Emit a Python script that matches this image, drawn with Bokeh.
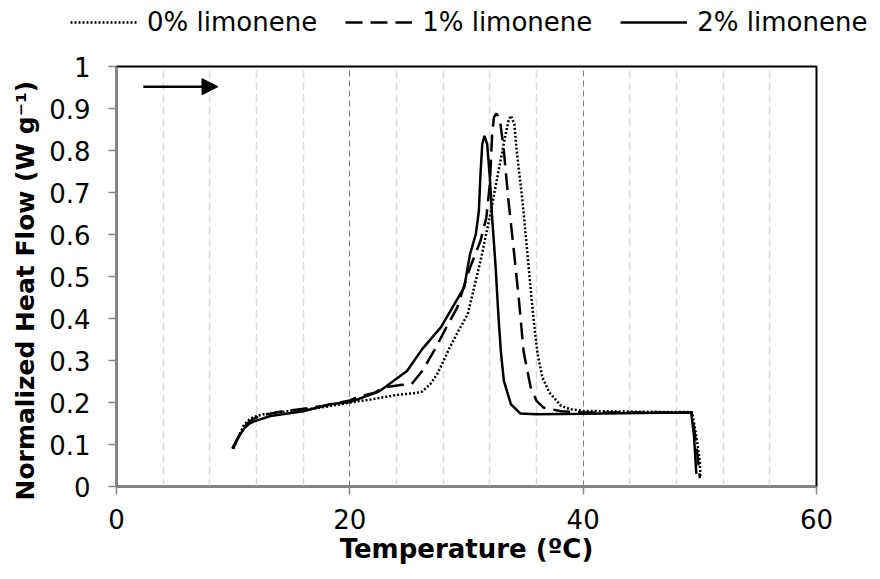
from bokeh.plotting import figure
from bokeh.layouts import column
from bokeh.models import (Legend, LegendItem, FixedTicker, Grid, Arrow, NormalHead,
                          Range1d, Title)
from bokeh.embed import file_html
from bokeh.resources import INLINE

# DSC heat-flow traces (temperature in degC, normalized heat flow in W/g)
temp_0 = [10.0, 10.4, 10.9, 11.4, 11.8, 12.6, 14.6, 16.0, 18.0, 20.0, 22.0, 24.0,
          25.5, 26.2, 26.9, 27.5, 28.5, 29.3, 30.1, 31.2, 32.1, 32.8, 33.3, 33.6,
          33.8, 34.1, 34.3, 34.8, 35.2, 35.6, 35.9, 36.1, 36.5, 37.1, 38.1, 38.9,
          40.0, 45.0, 49.35, 49.7, 50.0, 50.05]
flow_0 = [0.09, 0.115, 0.145, 0.16, 0.166, 0.172, 0.179, 0.182, 0.19, 0.20, 0.208, 0.218,
          0.222, 0.226, 0.244, 0.268, 0.327, 0.37, 0.41, 0.537, 0.656, 0.76, 0.831, 0.871,
          0.883, 0.863, 0.80, 0.68, 0.561, 0.44, 0.36, 0.315, 0.26, 0.224, 0.192, 0.184,
          0.18, 0.178, 0.177, 0.12, 0.06, 0.02]

temp_1 = [10.0, 10.4, 10.9, 11.4, 11.8, 12.6, 14.0, 16.0, 18.0, 20.0, 20.6, 22.2,
          22.9, 24.5, 25.3, 26.2, 27.3, 28.2, 29.2, 30.3, 31.2, 31.7, 32.0, 32.2,
          32.35, 32.57, 32.86, 33.2, 33.6, 34.06, 34.5, 34.9, 35.5, 36.0, 36.6, 38.1,
          40.0, 45.0, 49.3, 49.6, 49.9, 50.0]
flow_1 = [0.09, 0.115, 0.14, 0.155, 0.162, 0.17, 0.178, 0.185, 0.193, 0.205, 0.212, 0.224,
          0.236, 0.242, 0.244, 0.275, 0.327, 0.375, 0.426, 0.521, 0.585, 0.64, 0.72, 0.839,
          0.879, 0.888, 0.875, 0.80, 0.68, 0.561, 0.442, 0.32, 0.236, 0.204, 0.188, 0.179,
          0.176, 0.176, 0.176, 0.12, 0.05, 0.02]

temp_2 = [9.92, 10.4, 10.9, 11.4, 11.8, 13.2, 16.0, 18.3, 20.0, 22.3, 22.6, 24.9,
          26.2, 27.8, 29.8, 30.3, 30.8, 31.06, 31.2, 31.35, 31.54, 31.77, 32.0, 32.2,
          32.5, 32.75, 32.95, 33.2, 33.8, 34.6, 36.0, 40.0, 45.0, 49.26, 49.5, 49.7]
flow_2 = [0.09, 0.115, 0.137, 0.15, 0.155, 0.168, 0.179, 0.196, 0.201, 0.224, 0.228, 0.275,
          0.327, 0.379, 0.474, 0.553, 0.601, 0.656, 0.744, 0.815, 0.835, 0.815, 0.736, 0.64,
          0.521, 0.40, 0.32, 0.252, 0.196, 0.174, 0.172, 0.173, 0.175, 0.176, 0.12, 0.03]

series_names = ["0% limonene", "1% limonene", "2% limonene"]

x_ticks = [0, 20, 40, 60]
x_minor_grid = [4, 8, 12, 16, 24, 28, 32, 36, 44, 48, 52, 56]
y_ticks = [0, 0.1, 0.2, 0.3, 0.4, 0.5, 0.6, 0.7, 0.8, 0.9, 1]
y_tick_labels = ["0", "0.1", "0.2", "0.3", "0.4", "0.5", "0.6", "0.7", "0.8", "0.9", "1"]

FONT = "DejaVu Sans"
AXIS_GRAY = "#868686"
LINE_STYLES = [dict(line_dash="2 2"), dict(line_dash="17 8"), dict(line_dash="solid")]

LEGEND_H = 45

# ---- main chart ----
p = figure(width=880, height=579 - LEGEND_H, output_backend="svg", toolbar_location=None,
           x_range=Range1d(0, 60), y_range=Range1d(0, 1),
           min_border_left=116, min_border_right=64, min_border_top=66 - LEGEND_H,
           min_border_bottom=93)
p.frame_align = False
p.outline_line_color = "black"
p.outline_line_width = 2
p.background_fill_color = "white"
p.border_fill_color = "white"

# vertical grid: light dashes every 4 degC, darker at the major ticks
p.xgrid.ticker = FixedTicker(ticks=x_minor_grid)
p.xgrid.grid_line_color = "#d9d9d9"
p.xgrid.grid_line_width = 1.5
p.xgrid.grid_line_dash = "8 4"
p.ygrid.visible = False
major_grid = Grid(dimension=0, ticker=FixedTicker(ticks=[20, 40]),
                  grid_line_color="#808080", grid_line_width=1, grid_line_dash="6 4")
p.add_layout(major_grid)

# axes
for ax in (p.xaxis[0], p.yaxis[0]):
    ax.axis_line_color = AXIS_GRAY
    ax.axis_line_width = 2
    ax.major_tick_line_color = AXIS_GRAY
    ax.major_tick_line_width = 1.5
    ax.major_tick_in = 0
    ax.major_tick_out = 8
    ax.minor_tick_line_color = None
    ax.major_label_text_font = FONT
    ax.major_label_text_font_size = "26px"
    ax.major_label_text_color = "black"

p.xaxis.ticker = FixedTicker(ticks=x_ticks)
p.xaxis.axis_label = "Temperature (\u00baC)"
p.xaxis.axis_label_text_font = FONT
p.xaxis.axis_label_text_font_size = "26px"
p.xaxis.axis_label_text_font_style = "bold"
p.xaxis.axis_label_text_color = "black"
p.xaxis.major_label_standoff = 14
p.xaxis.axis_label_standoff = 2

p.yaxis.ticker = FixedTicker(ticks=y_ticks)
p.yaxis.major_label_overrides = {t: s for t, s in zip(y_ticks, y_tick_labels)}
p.yaxis.major_label_standoff = 18

# y-axis title as a side title, anchored at the lower end of the axis
y_title = Title(text="Normalized Heat Flow (W g\u207b\u00b9)", align="left", offset=-14,
                text_font=FONT, text_font_size="25px", text_font_style="bold",
                text_color="black", standoff=13)
p.add_layout(y_title, "left")

# traces
for (t, q), style in zip([(temp_0, flow_0), (temp_1, flow_1), (temp_2, flow_2)], LINE_STYLES):
    p.line(t, q, line_color="black", line_width=2.5, **style)

# heating direction arrow
arrow_x = (2.3, 8.7)
arrow_y = 0.952
p.add_layout(Arrow(end=NormalHead(size=16, fill_color="black", line_color="black"),
                   x_start=arrow_x[0], y_start=arrow_y, x_end=arrow_x[1], y_end=arrow_y,
                   line_color="black", line_width=2.5))

# ---- legend strip above the chart ----
leg = figure(width=880, height=LEGEND_H, output_backend="svg", toolbar_location=None,
             x_range=Range1d(0, 1), y_range=Range1d(0, 1),
             min_border_left=0, min_border_right=0, min_border_top=0, min_border_bottom=0)
leg.frame_align = False
leg.axis.visible = False
leg.grid.visible = False
leg.outline_line_color = None
# sample lines sit outside the visible range; only their legend swatches show
leg_renderers = [leg.line([-2, -1], [-2, -1], line_color="black", line_width=2.5, **style)
                 for style in LINE_STYLES]
legend = Legend(items=[LegendItem(label=n, renderers=[r]) for n, r in zip(series_names, leg_renderers)],
                orientation="horizontal", location=(70, 8),
                glyph_width=67, glyph_height=26, label_standoff=10, spacing=28,
                padding=0, margin=0, border_line_color=None,
                background_fill_alpha=0, label_text_font=FONT,
                label_text_font_size="26px", label_text_color="black")
leg.add_layout(legend)

layout = column(leg, p, spacing=0)
open("out.html", "w").write(file_html(layout, INLINE))
